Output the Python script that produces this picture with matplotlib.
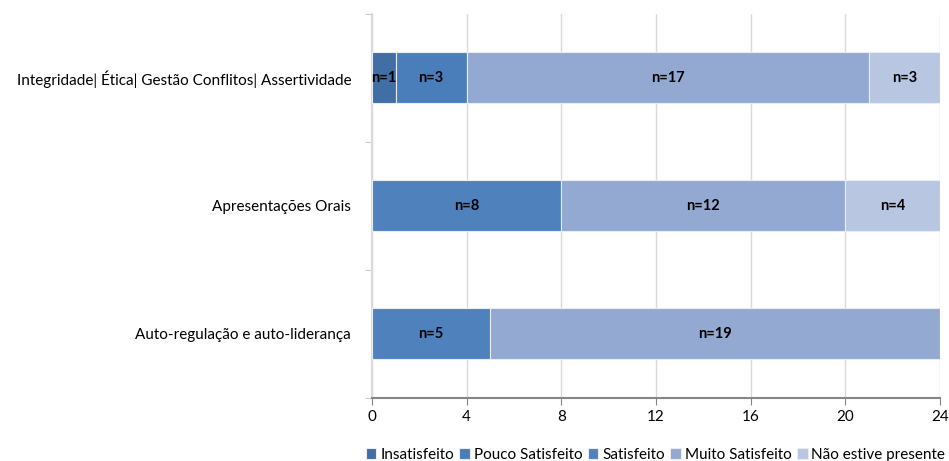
import numpy as np
import matplotlib.pyplot as plt

plt.rcParams['font.family'] = ['Lato', 'DejaVu Sans']

categories = ['Integridade| Ética| Gestão Conflitos| Assertividade',
              'Apresentações Orais',
              'Auto-regulação e auto-liderança']
series = ['Insatisfeito', 'Pouco Satisfeito', 'Satisfeito',
          'Muito Satisfeito', 'Não estive presente']
values = {
    'Insatisfeito':        [1, 0, 0],
    'Pouco Satisfeito':    [3, 0, 0],
    'Satisfeito':          [0, 8, 5],
    'Muito Satisfeito':    [17, 12, 19],
    'Não estive presente': [3, 4, 0],
}
colors = ['#416EA5', '#4A7EBB', '#4F81BD', '#94A9D1', '#B9C6E2']

fig = plt.figure(figsize=(9.49, 4.61), dpi=100)
ax = fig.add_axes([0.392, 0.137, 0.5985, 0.833])

y = np.arange(len(categories))
left = np.zeros(len(categories))
for name, col in zip(series, colors):
    v = np.array(values[name], dtype=float)
    bars = ax.barh(y, v, left=left, height=0.4, color=col,
                   edgecolor='#E8ECF4', linewidth=0.8, label=name, zorder=3)
    for b, val in zip(bars, v):
        if val > 0:
            ax.text(b.get_x() + b.get_width() / 2, b.get_y() + b.get_height() / 2,
                    'n=%d' % val, ha='center', va='center',
                    fontsize=10.5, fontweight='bold', color='black', zorder=4)
    left += v

ax.set_xlim(0, 24)
ax.set_ylim(len(categories) - 0.5, -0.5)
ax.set_xticks(np.arange(0, 25, 4))
ax.set_yticks(y)
ax.set_yticklabels(categories, fontsize=11)
ax.set_yticks(np.arange(-0.5, len(categories), 1), minor=True)
ax.tick_params(axis='y', which='major', length=0, pad=15)
ax.tick_params(axis='y', which='minor', length=5, color='#BFBFBF')
ax.tick_params(axis='x', length=5, color='#868686', labelsize=11, pad=4)

ax.grid(axis='x', color='#D9D9D9', linewidth=1, zorder=0)
for s in ['top', 'right']:
    ax.spines[s].set_visible(False)
ax.spines['bottom'].set_color('#868686')
ax.spines['bottom'].set_linewidth(1.5)
ax.spines['left'].set_color('#D9D9D9')
ax.spines['left'].set_linewidth(1.5)

ax.legend(loc='upper right', bbox_to_anchor=(0.996, 0.028),
          bbox_transform=fig.transFigure, ncol=5, frameon=False,
          fontsize=11, handlelength=0.7, handleheight=0.7, handletextpad=0.25,
          columnspacing=0.35, borderaxespad=0, borderpad=0)

fig.savefig('out.png', dpi=100)
